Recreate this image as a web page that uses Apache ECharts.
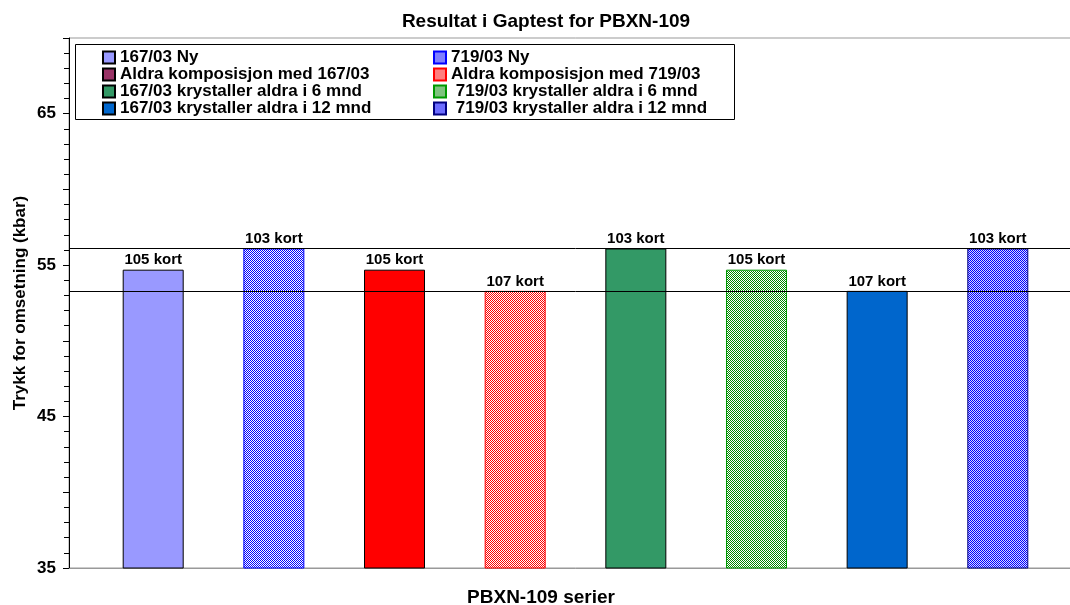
<!DOCTYPE html>
<html><head><meta charset="utf-8">
<script src="https://cdn.jsdelivr.net/npm/echarts@6/dist/echarts.min.js"></script>
<style>html,body{margin:0;padding:0;background:#fff;overflow:hidden}#c{width:1082px;height:605px}</style>
</head><body><div id="c"></div>
<script>
const categories = ['PBXN-109'];
const seriesNames = ['167/03 Ny', '719/03 Ny', 'Aldra komposisjon med 167/03', 'Aldra komposisjon med 719/03',
  '167/03 krystaller aldra i 6 mnd', ' 719/03 krystaller aldra i 6 mnd',
  '167/03 krystaller aldra i 12 mnd', ' 719/03 krystaller aldra i 12 mnd'];
const values = [54.7, 56.1, 54.7, 53.3, 56.1, 54.7, 53.3, 56.1];
const barLabels = ['105 kort', '103 kort', '105 kort', '107 kort', '103 kort', '105 kort', '107 kort', '103 kort'];
const refLines = [56.1, 53.3];
const yTickLabels = [35, 45, 55, 65];

const FONT = "'Liberation Sans', Arial, sans-serif";

function checker(fg, bg, dense) {
  const c = document.createElement('canvas');
  c.width = 2; c.height = 2;
  const ctx = c.getContext('2d');
  ctx.fillStyle = bg; ctx.fillRect(0, 0, 2, 2);
  ctx.fillStyle = fg; ctx.fillRect(0, 0, 1, 1); ctx.fillRect(1, 1, 1, 1);
  if (dense) ctx.fillRect(1, 0, 1, 1);
  return { image: c, repeat: 'repeat' };
}

const fills = ['#9999FF', checker('#0000FF', '#FFFFFF'), '#993366', checker('#FF0000', '#FFFFFF'),
  '#339966', checker('#008800', '#FFFFFF'), '#0066CC', checker('#0000FF', '#D8D8FF')];
const borders = ['#000', '#0000FF', '#000', '#FF0000', '#000', '#009900', '#000', '#000080'];
const dataColorOverride = { 2: '#FF0000' };

const chart = echarts.init(document.getElementById('c'), null, { renderer: 'canvas' });

const series = seriesNames.map((name, i) => ({
  type: 'bar',
  name,
  barWidth: 61,
  barGap: '97.8%',
  itemStyle: { color: fills[i], borderColor: borders[i], borderWidth: 1 },
  data: [dataColorOverride[i] ? { value: values[i], itemStyle: { color: dataColorOverride[i] } } : values[i]],
  label: {
    show: true, position: 'top', distance: 2, formatter: barLabels[i],
    fontFamily: FONT, fontWeight: 'bold', fontSize: 15, color: '#000'
  },
  markLine: i === 0 ? {
    silent: true, symbol: 'none', label: { show: false },
    lineStyle: { color: '#000', width: 1, type: 'solid' },
    data: refLines.map(v => ({ yAxis: v }))
  } : undefined
}));

const legendText = { fontFamily: FONT, fontWeight: 'bold', fontSize: 17, color: '#000', lineHeight: 17 };
const legendBase = {
  orient: 'vertical', top: 49, padding: 0, itemGap: 0, itemWidth: 12, itemHeight: 12,
  icon: 'rect', textStyle: legendText, selectedMode: false
};

chart.setOption({
  animation: false,
  backgroundColor: '#fff',
  title: {
    text: 'Resultat i Gaptest for PBXN-109', left: 541, top: 7, textAlign: 'center',
    textStyle: { fontFamily: FONT, fontWeight: 'bold', fontSize: 19, color: '#000' }
  },
  legend: [
    Object.assign({ left: 102, data: seriesNames.filter((_, i) => i % 2 === 0) }, legendBase),
    Object.assign({ left: 433, data: seriesNames.filter((_, i) => i % 2 === 1) }, legendBase)
  ],
  graphic: [{
    type: 'rect', shape: { x: 75.5, y: 44.5, width: 659, height: 75 },
    style: { fill: 'none', stroke: '#000', lineWidth: 1 }, z: 10
  }],
  grid: {
    left: 69, right: 0, top: 38, bottom: 37, show: true, borderColor: '#999', borderWidth: 1,
    outerBoundsMode: 'none', containLabel: false
  },
  xAxis: {
    type: 'category', data: categories,
    axisLine: { lineStyle: { color: '#999', width: 1 } },
    axisTick: { show: false }, axisLabel: { show: false },
    name: 'PBXN-109 serier', nameLocation: 'middle', nameGap: 20,
    nameTextStyle: { fontFamily: FONT, fontWeight: 'bold', fontSize: 19, color: '#000', padding: [0, 69, 0, 0] }
  },
  yAxis: {
    type: 'value', min: 35, max: 70, interval: 5,
    axisLine: { show: true, lineStyle: { color: '#000', width: 1 } },
    axisTick: { show: true, length: 6, lineStyle: { color: '#000' } },
    minorTick: { show: true, splitNumber: 5, length: 5, lineStyle: { color: '#000' } },
    splitLine: { show: false },
    axisLabel: {
      margin: 13, fontFamily: FONT, fontWeight: 'bold', fontSize: 17, color: '#000',
      formatter: v => (yTickLabels.includes(v) ? String(v) : '')
    },
    name: 'Trykk for omsetning (kbar)', nameLocation: 'middle', nameGap: 40, nameRotate: 90,
    nameMoveOverlap: false,
    nameTextStyle: { fontFamily: FONT, fontWeight: 'bold', fontSize: 17, color: '#000' }
  },
  series
});
</script>
</body></html>
